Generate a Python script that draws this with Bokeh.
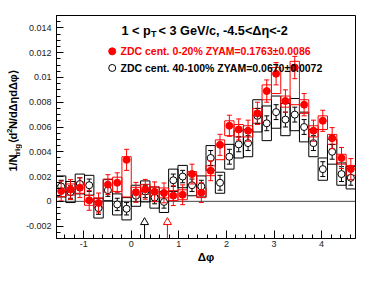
import math
import numpy as np
from bokeh.plotting import figure
from bokeh.layouts import row
from bokeh.models import Range1d, FixedTicker, Label, Span
from bokeh.embed import file_html
from bokeh.resources import INLINE

# ---------------- data ----------------
n_bins = 32
phi_lo, phi_hi = -math.pi / 2, 3 * math.pi / 2
y_lo, y_hi = -0.003, 0.015

red_y = [0.00083, 0.00095, 0.0011, 0.00008, -0.00013, 0.00135, 0.0015, 0.00335,
         0.00073, 0.00097, 0.00077, 0.00068, 0.00046, 0.00053, 0.0022, 0.0007,
         0.00247, 0.00456, 0.0061, 0.0058, 0.0057, 0.0071, 0.0089, 0.0103,
         0.0081, 0.0108, 0.0078, 0.0057, 0.0065, 0.0051, 0.0035, 0.0026]
red_stat = [0.0008, 0.0008, 0.0008, 0.0008, 0.0008, 0.0008, 0.0008, 0.00085,
            0.0008, 0.0008, 0.0008, 0.0008, 0.0008, 0.0008, 0.0008, 0.0008,
            0.0008, 0.00085, 0.00085, 0.00085, 0.00085, 0.0009, 0.0009, 0.0009,
            0.0009, 0.0009, 0.0009, 0.00085, 0.00085, 0.00085, 0.00085, 0.00085]
red_sys_up = [0.00045, 0.00045, 0.00045, 0.0004, 0.0004, 0.00045, 0.00045, 0.00025,
              0.0004, 0.0004, 0.0004, 0.0004, 0.0004, 0.0004, 0.0002, 0.0004,
              0.0004, 0.0004, 0.0004, 0.0004, 0.0004, 0.0004, 0.0005, 0.0005,
              0.0004, 0.0005, 0.0004, 0.0004, 0.0004, 0.0003, 0.0003, 0.0003]
red_sys_down = [0.00045, 0.00045, 0.00045, 0.0004, 0.0004, 0.0006, 0.0007, 0.003,
                0.0004, 0.0004, 0.0004, 0.0004, 0.0004, 0.0004, 0.0008, 0.0004,
                0.0004, 0.0012, 0.0008, 0.0006, 0.0005, 0.0008, 0.0007, 0.0016,
                0.0005, 0.003, 0.0007, 0.0005, 0.0007, 0.0005, 0.0005, 0.0005]

black_y = [0.0012, 0.00075, 0.0014, 0.0013, -0.00055, 0.0009, -0.00025, -0.0006,
           0.00045, 0.0008, 0.0003, -0.00005, 0.0017, 0.002, 0.0013, 0.0012,
           0.0035, 0.0015, 0.0036, 0.0046, 0.0047, 0.0069, 0.0063, 0.0072,
           0.0066, 0.0070, 0.0060, 0.0047, 0.0026, 0.0040, 0.0022, 0.0019]
black_stat = [0.0005] * 16 + [0.0006] * 16
black_sys = [0.00085, 0.00085, 0.0008, 0.0008, 0.0008, 0.00085, 0.00085, 0.0009,
             0.00085, 0.00085, 0.00085, 0.00085, 0.0009, 0.0009, 0.00085, 0.00085,
             0.001, 0.00085, 0.001, 0.0011, 0.0011, 0.0013, 0.0014, 0.0013,
             0.0013, 0.0013, 0.0012, 0.0011, 0.0009, 0.001, 0.0009, 0.0009]

arrow_black_x = 0.28
arrow_red_x = 0.76

x_tick_vals = [-1, 0, 1, 2, 3, 4]
x_tick_labels = ["-1", "0", "1", "2", "3", "4"]
y_tick_vals = [-0.002, 0.0, 0.002, 0.004, 0.006, 0.008, 0.01, 0.012, 0.014]
y_tick_labels = ["-0.002", "0", "0.002", "0.004", "0.006", "0.008", "0.01", "0.012", "0.014"]

legend_red = "ZDC cent. 0-20% ZYAM=0.1763\u00b10.0086"
legend_black = "ZDC cent. 40-100% ZYAM=0.0670\u00b10.0072"
x_title = "\u0394\u03c6"

# ---------------- derived ----------------
edges = np.linspace(phi_lo, phi_hi, n_bins + 1)
centers = 0.5 * (edges[:-1] + edges[1:])
ry = np.array(red_y); rs = np.array(red_stat)
by = np.array(black_y); bs = np.array(black_stat)

FONT = "Liberation Sans"
TOTAL_W, TOTAL_H = 358, 265
LAB_W = 22
# frame geometry in picture pixels (used only to place annotations)
FL, FT, FR, FB = 56.0, 15.0, 355.0, 239.0
FW, FH = FR - FL, FB - FT

def px_x(px):
    return phi_lo + (px - FL) / FW * (phi_hi - phi_lo)

def px_y(py):
    return y_hi - (py - FT) / FH * (y_hi - y_lo)

p = figure(width=TOTAL_W - LAB_W, height=TOTAL_H, x_range=Range1d(phi_lo, phi_hi),
           y_range=Range1d(y_lo, y_hi), output_backend="svg",
           toolbar_location=None, min_border_left=int(FL) - LAB_W,
           min_border_right=TOTAL_W - int(FR), min_border_top=int(FT),
           min_border_bottom=TOTAL_H - int(FB))
p.background_fill_color = "white"
p.border_fill_color = "white"
p.outline_line_color = "black"
p.outline_line_width = 1
p.xgrid.visible = False
p.ygrid.visible = False

p.xaxis.ticker = FixedTicker(ticks=x_tick_vals,
                             minor_ticks=[round(v, 6) for v in np.arange(-1.4, 4.61, 0.2)])
p.yaxis.ticker = FixedTicker(ticks=y_tick_vals,
                             minor_ticks=[round(v, 6) for v in np.arange(-0.003, 0.01501, 0.0005)])
p.xaxis.major_label_overrides = dict(zip(x_tick_vals, x_tick_labels))
p.yaxis.major_label_overrides = dict(zip(y_tick_vals, y_tick_labels))

for ax in (p.xaxis[0], p.yaxis[0]):
    ax.major_tick_out = 0
    ax.minor_tick_out = 0
    ax.axis_line_color = "black"
    ax.major_tick_line_color = "black"
    ax.minor_tick_line_color = "black"
    ax.major_label_text_font = FONT
    ax.major_label_text_font_size = "9px"
    ax.major_label_text_color = "#222222"
p.xaxis.major_tick_in = 8
p.xaxis.minor_tick_in = 4
p.yaxis.major_tick_in = 7
p.yaxis.minor_tick_in = 4
p.xaxis.major_label_standoff = 2
p.yaxis.major_label_standoff = 5
p.xaxis.axis_label = x_title
p.xaxis.axis_label_text_font = FONT
p.xaxis.axis_label_text_font_size = "11.5px"
p.xaxis.axis_label_text_font_style = "bold"
p.xaxis.axis_label_text_color = "black"
p.xaxis.axis_label_standoff = 1

zero = Span(location=0, dimension="width", line_color="#444444", line_width=1)
zero.level = "underlay"
p.add_layout(zero)

# systematic boxes
p.quad(left=edges[:-1], right=edges[1:], bottom=by - np.array(black_sys),
       top=by + np.array(black_sys), fill_color=None, line_color="black", line_width=1)
p.quad(left=edges[:-1], right=edges[1:], bottom=ry - np.array(red_sys_down),
       top=ry + np.array(red_sys_up), fill_color=None, line_color="red", line_width=1)

# black stat errors + markers
p.segment(x0=centers, y0=by - bs, x1=centers, y1=by + bs, line_color="black", line_width=1)
p.scatter(np.concatenate([centers, centers]), np.concatenate([by - bs, by + bs]),
          marker="dash", size=5, line_color="black", line_width=1)
p.scatter(centers, by, marker="circle", size=7, fill_color="white",
          line_color="black", line_width=1)

# red stat errors + markers
p.segment(x0=centers, y0=ry - rs, x1=centers, y1=ry + rs, line_color="red", line_width=1)
p.scatter(np.concatenate([centers, centers]), np.concatenate([ry - rs, ry + rs]),
          marker="dash", size=5, line_color="red", line_width=1)
p.scatter(centers, ry, marker="circle", size=7, fill_color="red",
          line_color="red", line_width=1)

# ZYAM arrows
tri_size = 8
base_y = px_y(225)
center_y = px_y(225 - tri_size * math.sqrt(3) / 2 / 3)
p.segment(x0=[arrow_black_x, arrow_red_x], y0=[y_lo, y_lo],
          x1=[arrow_black_x, arrow_red_x], y1=[base_y, base_y],
          line_color=["black", "red"], line_width=1)
p.scatter([arrow_black_x, arrow_red_x], [center_y, center_y], marker="triangle",
          size=tri_size, fill_color="white", line_color=["black", "red"], line_width=1)

# legend
p.scatter([px_x(111.7)], [px_y(51)], marker="circle", size=7, fill_color="red", line_color="red")
p.scatter([px_x(111.7)], [px_y(67.7)], marker="circle", size=7, fill_color="white",
          line_color="black")

def lab(fig, x, y, text, size, color="black", align="left", baseline="middle",
        angle=0.0, style="bold"):
    fig.add_layout(Label(x=x, y=y, text=text, text_font=FONT,
                         text_font_size=f"{size}px", text_font_style=style,
                         text_color=color, text_align=align, text_baseline=baseline,
                         angle=angle))

lab(p, px_x(120), px_y(51), legend_red, 10.5, color="red")
lab(p, px_x(120), px_y(67.7), legend_black, 10.5)

# title
lab(p, px_x(121), px_y(30.5), "1 < p", 12.7, baseline="alphabetic")
lab(p, px_x(150.5), px_y(33.5), "T", 9, baseline="alphabetic")
lab(p, px_x(158), px_y(30.5), " < 3 GeV/c, -4.5<\u0394\u03b7<-2", 12.7, baseline="alphabetic")

# ---------------- y-axis title strip (pixel coordinates) ----------------
q = figure(width=LAB_W, height=TOTAL_H, x_range=Range1d(0, LAB_W),
           y_range=Range1d(TOTAL_H, 0), output_backend="svg", toolbar_location=None,
           min_border_left=0, min_border_right=0, min_border_top=0, min_border_bottom=0)
q.xaxis.visible = False
q.yaxis.visible = False
q.xgrid.visible = False
q.ygrid.visible = False
q.outline_line_color = None
q.background_fill_color = "white"
q.border_fill_color = "white"

rot = math.pi / 2
lab(q, 12.5, 185.5, "1/N", 11, angle=rot)
lab(q, 16.5, 168.0, "trig", 8, angle=rot)
lab(q, 12.5, 152.0, "\u27e8d", 11, angle=rot)
lab(q, 8.5, 139.5, "2", 8, angle=rot)
lab(q, 12.5, 135.0, "N/d\u0394\u03b7d\u0394\u03c6\u27e9", 11, angle=rot)

layout = row(q, p, spacing=0)
open("out.html", "w").write(file_html(layout, INLINE))
